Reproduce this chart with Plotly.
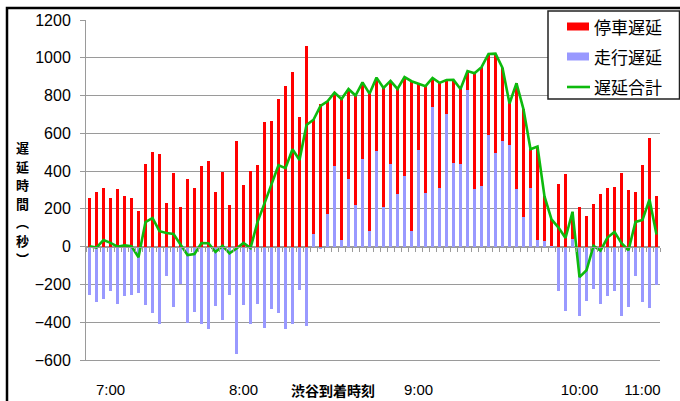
import plotly.graph_objects as go

# Delay per arriving train at Shibuya (seconds)
stop_delay = [256, 288, 312, 256, 305, 270, 256, 191, 439, 503, 491, 229,
              388, 210, 360, 309, 427, 454, 288, 394, 221, 558, 327, 402,
              432, 660, 664, 782, 852, 925, 688, 1064, 603, 755, 595, 386,
              745, 478, 579, 404, 725, 390, 632, 439, 554, 522, 795, 350,
              566, 153, 555, 178, 438, 399, 102, 611, 627, 427, 528, 385,
              218, 558, 572, 205, 495, 234, 140, 334, 385, 145, 208, 164,
              226, 281, 311, 314, 388, 302, 288, 432, 575, 270]
run_delay = [-254, -293, -277, -236, -305, -263, -254, -247, -309, -351, -409, -157,
             -321, -200, -404, -348, -408, -436, -316, -390, -256, -568, -307, -409,
             -302, -431, -330, -351, -436, -409, -229, -420, 69, -10, 175, 429,
             37, 357, 221, 466, 85, 505, 208, 439, 281, 376, 81, 512,
             284, 740, 312, 704, 445, 436, 828, 307, 323, 593, 494, 561,
             540, 307, 155, 311, 35, 32, 5, -233, -339, 40, -369, -289,
             -222, -302, -263, -236, -369, -321, -157, -291, -325, -205]
tick_index = [3, 22, 47, 70, 79]
tick_text = ["7:00", "8:00", "9:00", "10:00", "11:00"]
y_title = "遅延時間︵秒︶"

n = len(stop_delay)
idx = list(range(n))
total = [s + r for s, r in zip(stop_delay, run_delay)]

W, H = 680, 401
L, R, T, B = 86, 20, 20, 41
pw = W - L - R
ph = H - T - B


def px(x):
    return (x - L) / pw


def py(y):
    return (H - B - y) / ph


RED = "#FF0000"
BLUE = "#9999FF"
GREEN = "#0DBA0D"
GRID = "#9a9a9a"
JP = "Noto Sans CJK JP"
LAT = "Liberation Sans, Arial, sans-serif"

fig = go.Figure()
fig.add_trace(go.Bar(x=idx, y=run_delay, name="走行遅延", marker_color=BLUE,
                     marker_line_width=0, width=0.5, showlegend=False))
fig.add_trace(go.Bar(x=idx, y=stop_delay, name="停車遅延", marker_color=RED,
                     marker_line_width=0, width=0.5, showlegend=False))
fig.add_trace(go.Scatter(x=idx, y=total, name="遅延合計", mode="lines",
                         line=dict(color=GREEN, width=2.6), xaxis="x2",
                         showlegend=False))

xr = [-0.5, n - 0.5]
fig.update_layout(
    width=W, height=H,
    margin=dict(l=L, r=R, t=T, b=B, autoexpand=False),
    paper_bgcolor="white", plot_bgcolor="white",
    barmode="relative", bargap=0,
    xaxis=dict(range=xr, tickvals=tick_index, ticktext=tick_text,
               ticks="", showgrid=False, zeroline=False, automargin=False,
               showline=True, linecolor=GRID, linewidth=1,
               tickfont=dict(family=LAT, size=15, color="black"),
               ticklabelstandoff=16),
    xaxis2=dict(range=xr, overlaying="x", anchor="free", position=1 / 3,
                side="bottom", tickvals=[i + 0.5 for i in range(-1, n)],
                ticks="outside", ticklen=4, tickcolor=GRID, tickwidth=1,
                showticklabels=False, showgrid=False, zeroline=False,
                automargin=False,
                showline=True, linecolor=GRID, linewidth=1),
    yaxis=dict(range=[-600, 1200], dtick=200, showgrid=True, gridcolor=GRID,
               gridwidth=1, zeroline=False, showline=True, linecolor=GRID,
               linewidth=1, ticks="outside", ticklen=5, tickcolor=GRID,
               automargin=False,
               tickfont=dict(family=LAT, size=16, color="black"),
               ticklabelstandoff=6),
)

shapes = []
annotations = []

# outer frame of the chart
shapes.append(dict(type="rect", xref="paper", yref="paper",
                   x0=px(7), x1=px(695), y0=py(415), y1=py(8),
                   line=dict(color="black", width=2.5), layer="above"))

# legend box
shapes.append(dict(type="rect", xref="paper", yref="paper",
                   x0=px(548), x1=px(679.5), y0=py(99), y1=py(11),
                   line=dict(color="#222", width=1.5), fillcolor="white",
                   layer="above"))
legend_rows = [("停車遅延", "bar", RED, 26.5),
               ("走行遅延", "bar", BLUE, 56.5),
               ("遅延合計", "line", GREEN, 87)]
for label, kind, color, yc in legend_rows:
    if kind == "bar":
        shapes.append(dict(type="rect", xref="paper", yref="paper",
                           x0=px(567), x1=px(589), y0=py(yc + 4), y1=py(yc - 4),
                           line=dict(width=0), fillcolor=color, layer="above"))
    else:
        shapes.append(dict(type="line", xref="paper", yref="paper",
                           x0=px(567), x1=px(590), y0=py(yc), y1=py(yc),
                           line=dict(color=color, width=2.6), layer="above"))
    annotations.append(dict(text=label, xref="paper", yref="paper",
                            x=px(592), y=py(yc), xanchor="left",
                            yanchor="middle", showarrow=False,
                            font=dict(family=JP, size=17, color="black")))

# vertical y-axis title, one upright character per row
title_top = 136
pitch = 18.5
for k, ch in enumerate(y_title):
    annotations.append(dict(text=ch, xref="paper", yref="paper",
                            x=px(22.5), y=py(title_top + k * pitch),
                            xanchor="center", yanchor="top",
                            showarrow=False, height=pitch - 0.5,
                            valign="middle",
                            font=dict(family=JP, size=13, color="black",
                                      weight=700)))
annotations.append(dict(text="渋谷到着時刻", xref="paper", yref="paper",
                        x=px(333), y=py(390), xanchor="center",
                        yanchor="middle", showarrow=False,
                        font=dict(family=JP, size=14, color="black",
                                  weight=700)))

fig.update_layout(shapes=shapes, annotations=annotations)
fig.write_html("out.html")
